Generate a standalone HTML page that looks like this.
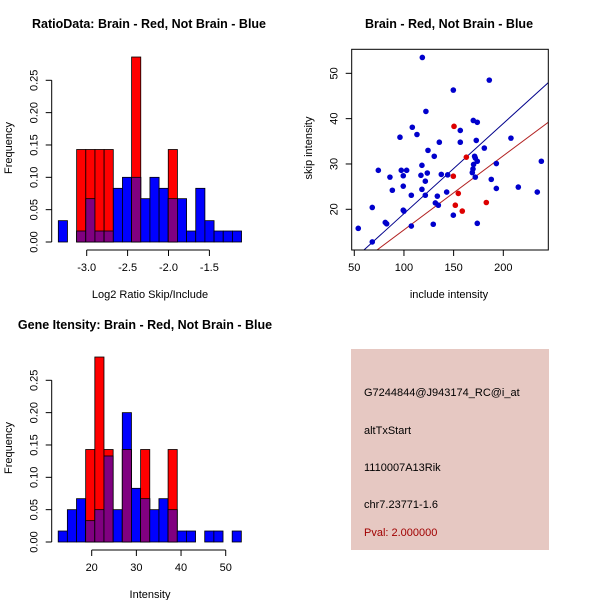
<!DOCTYPE html>
<html><head><meta charset="utf-8"><style>
body{margin:0;background:#fff;}
svg{display:block;font-family:"Liberation Sans",Arial,sans-serif;}
</style></head><body>
<svg id="s" width="600" height="600" viewBox="0 0 600 600">
<rect width="600" height="600" fill="#fff"/>
<g>
<rect x="351" y="349" width="198" height="201" fill="#e6c8c2"/>
<text x="364" y="396" font-size="11" fill="#000">G7244844@J943174_RC@i_at</text>
<text x="364" y="434" font-size="11" fill="#000">altTxStart</text>
<text x="364" y="471" font-size="11" fill="#000">1110007A13Rik</text>
<text x="364" y="508" font-size="11" fill="#000">chr7.23771-1.6</text>
<text x="364" y="536" font-size="11" fill="#a00000">Pval: 2.000000</text>
</g>
</svg>
<script>
// ---- Histogram 1 data ----
const ratioBlue=[0.033,0,0.017,0.067,0.017,0.017,0.083,0.1,0.1,0.067,0.1,0.083,0.067,0.067,0.017,0.083,0.033,0.017,0.017,0.017];
const ratioRed=[0,0,0.143,0.143,0.143,0.143,0,0,0.286,0,0,0,0.143,0,0,0,0,0,0,0];
const ratioXTicks=[-3.0,-2.5,-2.0,-1.5];
const ratioXLabels=["-3.0","-2.5","-2.0","-1.5"];
// ---- Histogram 2 data ----
const intBlue=[0.017,0.05,0.067,0.033,0.05,0.133,0.05,0.2,0.083,0.067,0.05,0.067,0.05,0.017,0.017,0,0.017,0.017,0,0.017];
const intRed=[0,0,0,0.143,0.286,0.143,0,0.143,0,0.143,0,0,0.143,0,0,0,0,0,0,0];
const intXTicks=[20,30,40,50];
const freqTicks=[0,0.05,0.1,0.15,0.2,0.25];
const freqLabels=["0.00","0.05","0.10","0.15","0.20","0.25"];
// ---- Scatter data ----
const blueX=[54,68.1,68.1,74.2,81.2,82.6,85.9,88.3,96,97.3,102.7,99.3,99.3,99.3,100,107.4,107.4,108.4,113.1,118.5,118.1,117.1,118.1,121.5,122.1,123.5,124.2,121.5,130.5,129.5,131.6,133.6,134.6,135.6,137.6,143,144,149.7,149.7,156.7,156.7,168.8,169.5,170.1,169.8,173.8,172.8,171.1,171.8,171.8,173.8,173.8,180.9,185.9,187.9,193,193,207.7,215.1,234.2,238.3];
const blueY=[15.8,20.4,12.8,28.6,17.1,16.8,27.1,24.2,35.9,28.6,28.6,27.4,25.1,19.8,19.6,23.1,16.3,38.1,36.5,53.5,29.7,27.5,24.4,26.2,41.6,28.0,33.0,23.1,31.7,16.7,21.4,22.9,20.9,34.8,27.7,23.8,27.6,46.3,18.7,37.4,34.8,28.1,28.9,29.9,39.6,39.2,35.2,31.7,31.3,27.1,30.6,16.9,33.5,48.5,26.6,30.1,24.6,35.7,24.9,23.8,30.6];
const redX=[150.4,149.7,154.7,151.7,158.7,162.8,182.9];
const redY=[38.3,27.3,23.5,20.9,19.6,31.5,21.5];
const fitIntercepts=[-0.86,-0.9];
const fitSlopes=[0.199,0.1635];
const fitColors=["#00008b","#b22222"];
const scXTicks=[50,100,150,200];
const scYTicks=[20,30,40,50];

const NS="http://www.w3.org/2000/svg";
const svg=document.getElementById('s');
function el(tag,attrs,parent){const e=document.createElementNS(NS,tag);for(const k in attrs)e.setAttribute(k,attrs[k]);(parent||svg).appendChild(e);return e;}
function txt(x,y,s,attrs,parent){const t=el('text',Object.assign({x:x,y:y,'font-size':11,'text-anchor':'middle'},attrs||{}),parent);t.textContent=s;return t;}

function hist(cfg){
  const g=el('g',{});
  
  
  const sx=v=>cfg.x0px+(v-cfg.x0)*cfg.pxPerX;
  const sy=v=>cfg.y0px-v*cfg.pxPerY;
  for(let i=0;i<cfg.blue.length;i++){
    const a=cfg.start+i*cfg.bw, b=a+cfg.bw;
    const x=sx(a), w=sx(b)-sx(a);
    const bv=cfg.blue[i], rv=cfg.red[i];
    if(bv>0){const r=el('rect',{x:x,y:sy(bv),width:w,height:sy(0)-sy(bv),fill:'#0000ff',stroke:'#000','stroke-width':0.8},g);
      
      }
    if(rv>0){const r=el('rect',{x:x,y:sy(rv),width:w,height:sy(0)-sy(rv),fill:'#ff0000',stroke:'#000','stroke-width':0.8},g);
      
      }
    if(bv>0&&rv>0){const m=Math.min(bv,rv);const r=el('rect',{x:x,y:sy(m),width:w,height:sy(0)-sy(m),fill:'#800080',stroke:'#000','stroke-width':0.8},g);
      
      }
  }
  const ya=el('g',{},g);
  
  
  el('line',{x1:cfg.yAxisX,x2:cfg.yAxisX,y1:sy(freqTicks[0]),y2:sy(freqTicks[freqTicks.length-1]),stroke:'#000'},ya);
  freqTicks.forEach((t,i)=>{el('line',{x1:cfg.yAxisX-6,x2:cfg.yAxisX,y1:sy(t),y2:sy(t),stroke:'#000'},ya);
    txt(cfg.yAxisX-14,sy(t),freqLabels[i],{transform:`rotate(-90 ${cfg.yAxisX-14} ${sy(t)})`},ya);});
  const xa=el('g',{},g);
  
  
  const ay=cfg.y0px+8;
  el('line',{x1:sx(cfg.xTicks[0]),x2:sx(cfg.xTicks[cfg.xTicks.length-1]),y1:ay,y2:ay,stroke:'#000'},xa);
  cfg.xTicks.forEach((t,i)=>{el('line',{x1:sx(t),x2:sx(t),y1:ay,y2:ay+6,stroke:'#000'},xa);
    txt(sx(t),ay+21,cfg.xLabels[i],{},xa);});
  const xt=txt(cfg.xLabelX,cfg.y0px+56,cfg.xTitle,{},g);
  
  
  const yt=txt(12,cfg.yTitleY,'Frequency',{transform:`rotate(-90 12 ${cfg.yTitleY})`},g);
  
  
  const tt=txt(cfg.titleX,cfg.titleY,cfg.title,{'font-weight':'bold','font-size':12.5},g);
  
  
}
hist({name:'ratio-histogram',blue:ratioBlue,red:ratioRed,start:-3.347,bw:0.112,x0:-3.0,x0px:86.7,pxPerX:81.8,y0px:242,pxPerY:646.8,yAxisX:51.7,
  xTicks:ratioXTicks,xLabels:ratioXLabels,xTitle:'Log2 Ratio Skip/Include',xLabelX:150,yTitleY:148,title:'RatioData: Brain - Red, Not Brain - Blue',titleX:149,titleY:28});
hist({name:'intensity-histogram',blue:intBlue,red:intRed,start:12.5,bw:2.05,x0:20,x0px:91.7,pxPerX:4.467,y0px:542,pxPerY:646.8,yAxisX:51.7,
  xTicks:intXTicks,xLabels:intXTicks.map(String),xTitle:'Intensity',xLabelX:150,yTitleY:448,title:'Gene Itensity: Brain - Red, Not Brain - Blue',titleX:145,titleY:329});

(function(){
  const g=el('g',{});
  
  
  const L=351.7,R=548.3,T=49.3,B=250;
  const xmin=47.4,xmax=245.3,ymin=11.02,ymax=55.3;
  const sx=v=>L+(v-xmin)/(xmax-xmin)*(R-L);
  const sy=v=>B-(v-ymin)/(ymax-ymin)*(B-T);
  const defs=el('defs',{},g);
  const cp=el('clipPath',{id:'pc'},defs);
  el('rect',{x:L,y:T,width:R-L,height:B-T},cp);
  fitIntercepts.forEach((a,i)=>{const b=fitSlopes[i];
    const l=el('line',{x1:sx(xmin),y1:sy(a+b*xmin),x2:sx(xmax),y2:sy(a+b*xmax),stroke:fitColors[i],'stroke-width':1,'clip-path':'url(#pc)'},g);
    
    });
  blueX.forEach((x,i)=>{const c=el('circle',{cx:sx(x),cy:sy(blueY[i]),r:2.8,fill:'#0000cc'},g);
    
    });
  redX.forEach((x,i)=>{const c=el('circle',{cx:sx(x),cy:sy(redY[i]),r:2.8,fill:'#dd0000'},g);
    
    });
  const f=el('rect',{x:L,y:T,width:R-L,height:B-T,fill:'none',stroke:'#000'},g);
  
  
  scXTicks.forEach(t=>{el('line',{x1:sx(t),x2:sx(t),y1:B,y2:B+6,stroke:'#000'},g);txt(sx(t),B+21,String(t),{},g);});
  scYTicks.forEach(t=>{el('line',{x1:L-6,x2:L,y1:sy(t),y2:sy(t),stroke:'#000'},g);
    txt(L-14,sy(t),String(t),{transform:`rotate(-90 ${L-14} ${sy(t)})`},g);});
  const xt=txt(449,298,'include intensity',{},g);
  
  
  const yt=txt(312,148,'skip intensity',{transform:'rotate(-90 312 148)'},g);
  
  
  const tt=txt(449,28,'Brain - Red, Not Brain - Blue',{'font-weight':'bold','font-size':12.5},g);
  
  
})();
</script>
</body></html>
